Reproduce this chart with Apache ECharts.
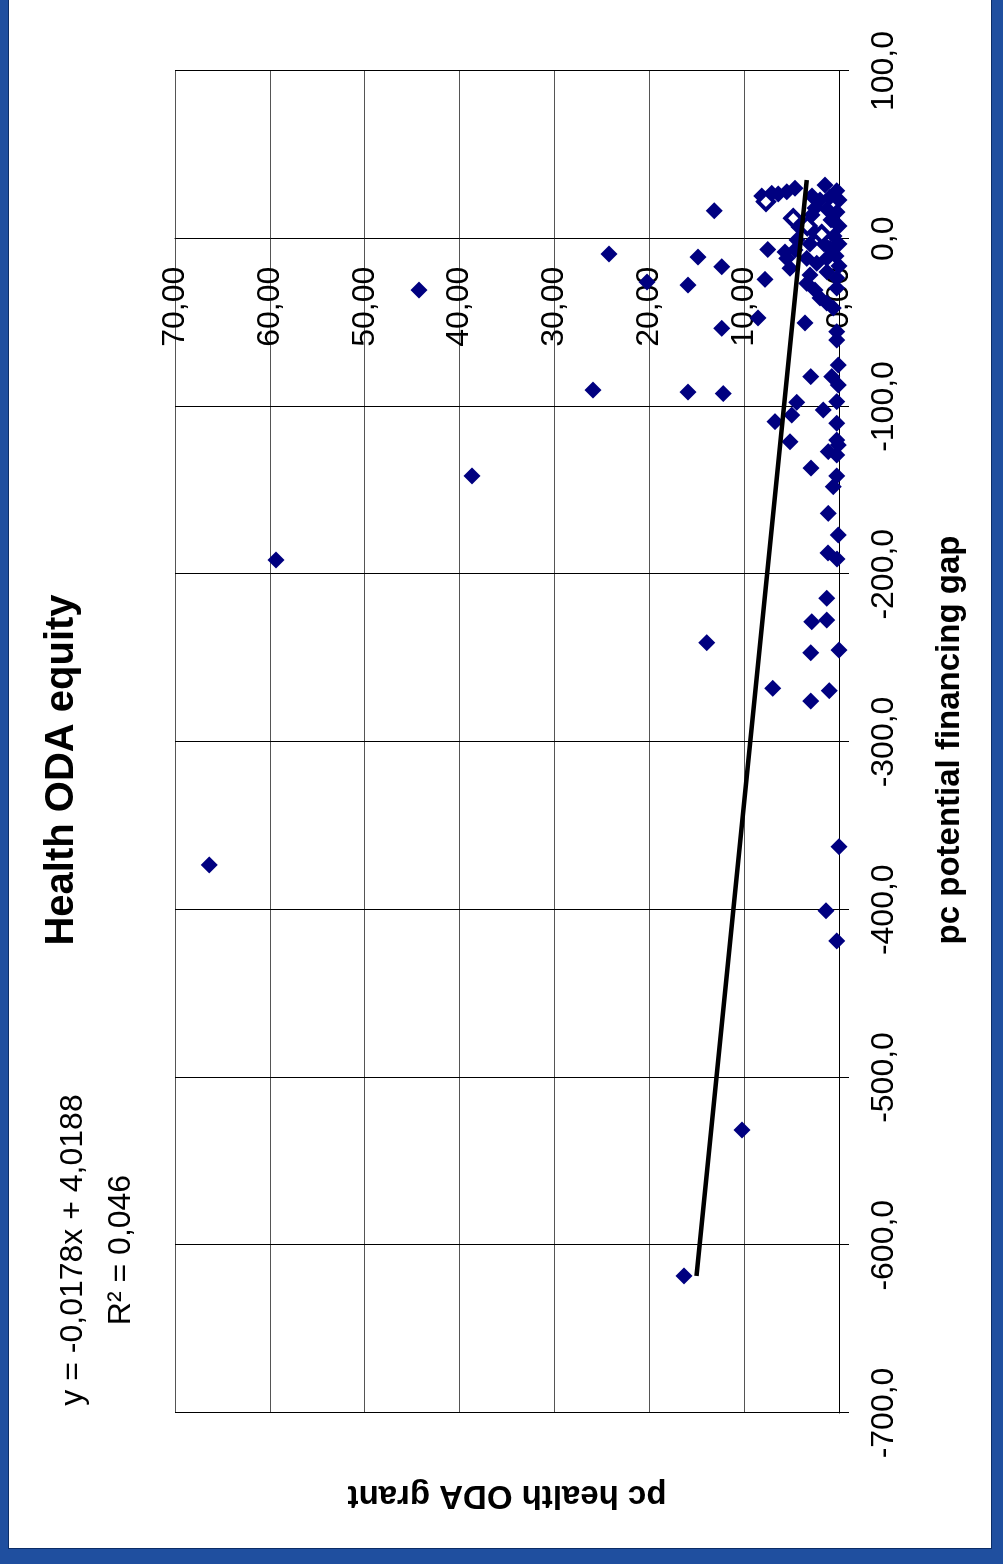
<!DOCTYPE html>
<html>
<head>
<meta charset="utf-8">
<script src="https://cdn.jsdelivr.net/npm/echarts@6/dist/echarts.min.js"></script>
<style>
html, body { margin: 0; padding: 0; width: 1003px; height: 1564px; overflow: hidden; background: #1f4f9f; }
#slide { position: absolute; left: 8px; top: 0; width: 982px; height: 1548px; background: #fff;
  border-left: 1px solid #0b2d66; border-right: 1px solid #0b2d66; border-bottom: 1px solid #0b2d66; }
#chart { position: absolute; left: 0; top: 0; width: 1564px; height: 1003px;
  transform-origin: 0 0; transform: translate(0, 1564px) rotate(-90deg); }
</style>
</head>
<body>
<div id="slide"></div>
<div id="chart"></div>
<script>
// pc potential financing gap (x) vs pc health ODA grant (y)
var points = [
  [-373.3, 66.4], [-191.5, 59.35], [-30.6, 44.28], [-141.4, 38.69], [-90.2, 25.93],
  [-9.1, 24.25], [-25.8, 20.24], [-27.6, 15.92], [-91.4, 15.92], [-10.9, 14.86],
  [-240.8, 13.95], [16.7, 13.15], [-16.7, 12.37], [-53.4, 12.37], [-92.3, 12.2],
  [-618.3, 16.34], [-531.3, 10.23], [-268, 6.99], [-362.4, 0.0], [-400.6, 1.37],
  [-418.6, 0.24], [-228.3, 2.88], [-227.3, 1.3], [-246.8, 2.98], [-245.2, 0.0],
  [-269.4, 1.02], [-275.6, 2.98], [-214.3, 1.3], [-187.3, 1.16], [-190.9, 0.21],
  [-176.6, 0.07], [-163.7, 1.13], [-147.8, 0.6], [-141.4, 0.24], [-136.7, 2.95],
  [-128.9, 0.24], [-126.9, 1.13], [-123, 0.07], [-120, 0.24], [-121, 5.17],
  [-110, 0.24], [-109, 6.75], [-102.1, 1.66], [-105.1, 4.99], [-97.5, 4.46],
  [-97.1, 0.24], [-87.2, 0.07], [-82.2, 0.77], [-82.2, 2.98], [-75.3, 0.07],
  [-60.4, 0.24], [-55.4, 0.24], [-50.2, 3.58], [-47.2, 8.54], [-24.2, 7.8],
  [-6.4, 7.52],
  [-11.7, 5.51], [-17.6, 5.17], [-11.7, 3.41], [-14.6, 2.35], [-11.7, 1.3],
  [-5.7, 0.95], [-21.6, 3.06], [-26.6, 3.41], [-30.6, 2.53], [-35.3, 2.0],
  [-38.3, 1.3], [-41.3, 0.6], [-29.4, 0.24], [-23.4, 0.24], [-7.9, 5.69],
  [25.5, 8.15], [27.1, 7.09], [26.7, 6.4], [28, 5.51], [30.1, 4.64],
  [32, 1.48], [28.6, 0.24],
  [25.5, 2.85], [23.1, 2.0], [24.9, 0.95], [23.1, 0.0], [18.3, 2.53],
  [17.7, 1.27], [15.9, 0.21], [14.2, 2.85], [11.2, 0.84], [7.6, 0.0],
  [4.0, 2.64], [1.6, 0.53], [7.0, 4.22], [-0.7, 4.43], [-3.1, 3.06],
  [-3.1, 1.58], [-3.1, 0.0], [-6.7, 4.64], [-10.3, 0.32], [-16.2, 0.0],
  [-19.8, 1.27]
];
// markers drawn with a white centre
var hollowPoints = [[22.1, 7.7], [12.2, 4.82], [7.6, 3.34], [2.7, 1.82]];
// linear trend line end points
var trendLine = [[-618.3, 15.02], [35, 3.4]];

var xTicks = { min: -700, max: 100, step: 100 };
var yTicks = { min: 0, max: 70, step: 10 };

var FONT = 'Liberation Sans, Arial, sans-serif';
var GRID = { left: 151, right: 71, top: 175, bottom: 164 };
var plotW = 1564 - GRID.left - GRID.right;
// shift the value axis so it crosses the category axis at x = 0
var yAxisShift = -plotW * (0 - xTicks.min) / (xTicks.max - xTicks.min);

var myChart = echarts.init(document.getElementById('chart'));

option = {
    animation: false,
    grid: GRID,
    xAxis: {
        type: 'value',
        min: xTicks.min, max: xTicks.max, interval: xTicks.step,
        axisLine: { onZero: false, lineStyle: { color: '#000', width: 1 } },
        axisTick: { show: true, length: 10, lineStyle: { color: '#000' } },
        axisLabel: {
            margin: 29, color: '#000', fontSize: 32, fontFamily: FONT,
            formatter: function (v) { return v.toFixed(1).replace('.', ','); }
        },
        splitLine: { show: true, lineStyle: { color: '#000', width: 1 } }
    },
    yAxis: {
        type: 'value',
        position: 'left',
        offset: yAxisShift,
        min: yTicks.min, max: yTicks.max, interval: yTicks.step,
        axisLine: { show: true, onZero: false, lineStyle: { color: '#000', width: 1 } },
        axisTick: { show: true, length: 9, lineStyle: { color: '#555' } },
        axisLabel: {
            margin: 28, color: '#000', fontSize: 32, fontFamily: FONT,
            formatter: function (v) { return v.toFixed(2).replace('.', ','); }
        },
        splitLine: { show: true, lineStyle: { color: '#555', width: 1 } }
    },
    series: [
        {
            type: 'scatter',
            symbol: 'diamond',
            symbolSize: 17,
            clip: false,
            itemStyle: { color: '#000080', opacity: 1 },
            data: points
        },
        {
            type: 'scatter',
            symbol: 'diamond',
            symbolSize: 16,
            clip: false,
            itemStyle: { color: '#fff', borderColor: '#000080', borderWidth: 4, opacity: 1 },
            data: hollowPoints
        },
        {
            type: 'line',
            showSymbol: false,
            symbol: 'none',
            lineStyle: { color: '#000', width: 4.5 },
            data: trendLine
        }
    ],
    graphic: [
        { type: 'text', x: 794, y: 62, style: { text: 'Health ODA equity', font: 'bold 40px ' + FONT, fill: '#000', textAlign: 'center', textVerticalAlign: 'middle' } },
        { type: 'text', x: 314, y: 73, style: { text: 'y = -0,0178x + 4,0188', font: '32px ' + FONT, fill: '#000', textAlign: 'center', textVerticalAlign: 'middle' } },
        { type: 'text', x: 314, y: 121, style: { text: 'R² = 0,046', font: '32px ' + FONT, fill: '#000', textAlign: 'center', textVerticalAlign: 'middle' } },
        { type: 'text', x: 824, y: 950, style: { text: 'pc potential financing gap', font: 'bold 33px ' + FONT, fill: '#000', textAlign: 'center', textVerticalAlign: 'middle' } },
        { type: 'text', x: 69, y: 507, rotation: Math.PI / 2, style: { text: 'pc health ODA grant', font: 'bold 33px ' + FONT, fill: '#000', textAlign: 'center', textVerticalAlign: 'middle' } }
    ]
};
myChart.setOption(option);
</script>
</body>
</html>
